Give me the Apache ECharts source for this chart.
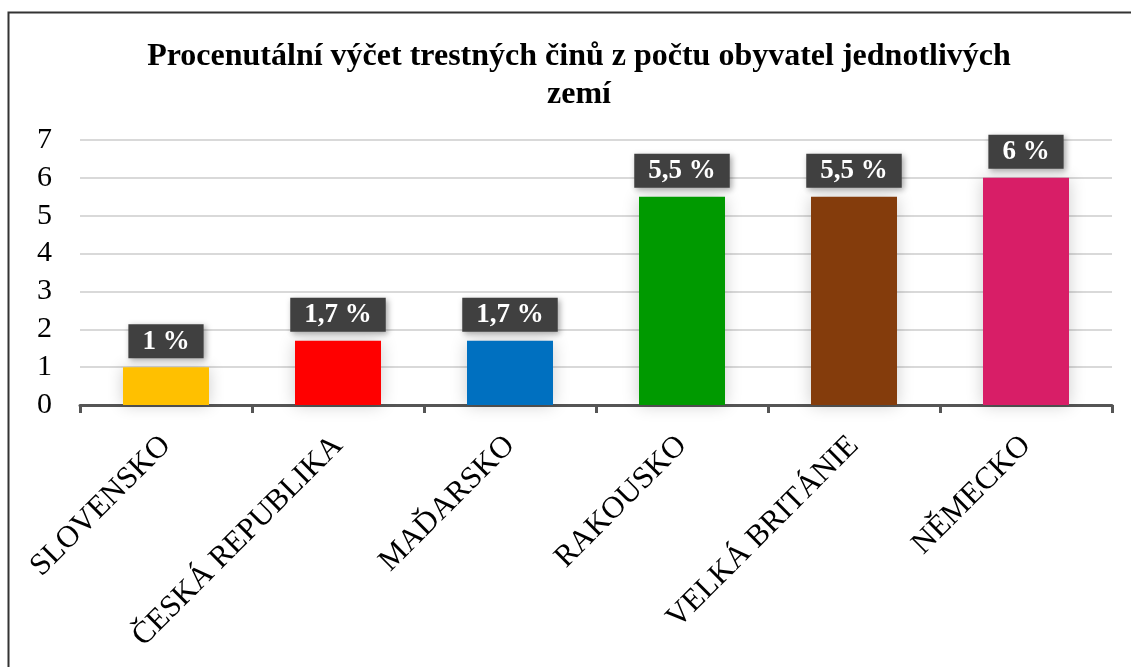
<!DOCTYPE html>
<html>
<head>
<meta charset="utf-8">
<script src="https://cdn.jsdelivr.net/npm/echarts@6/dist/echarts.min.js"></script>
<style>
  html, body { margin: 0; padding: 0; background: #fff; }
  #chart { width: 1131px; height: 667px; }
</style>
</head>
<body>
<div id="chart"></div>
<script>
const zeme = ["SLOVENSKO", "ČESKÁ REPUBLIKA", "MAĎARSKO", "RAKOUSKO", "VELKÁ BRITÁNIE", "NĚMECKO"];
const procenta = [1, 1.7, 1.7, 5.5, 5.5, 6];
const barvy = ["#FFC000", "#FF0000", "#0070C0", "#009A00", "#843C0C", "#D81E67"];

const serif = "'Liberation Serif', 'Times New Roman', serif";

const chart = echarts.init(document.getElementById("chart"));

chart.setOption({
  animation: false,
  title: {
    text: "Procenutální výčet trestných činů z počtu obyvatel jednotlivých\nzemí",
    left: 574,
    textAlign: "center",
    top: 33,
    textStyle: {
      fontFamily: serif,
      fontWeight: "bold",
      fontSize: 32,
      lineHeight: 38,
      color: "#000"
    }
  },
  graphic: [
    {
      type: "rect",
      shape: { x: 8.5, y: 12.5, width: 1200, height: 700 },
      style: { fill: "none", stroke: "#333", lineWidth: 2 },
      silent: true
    }
  ],
  grid: { left: 80, right: 19, top: 140, bottom: 262 },
  xAxis: {
    type: "category",
    data: zeme,
    axisLine: { lineStyle: { color: "#555", width: 3 } },
    axisTick: { show: true, length: 8, lineStyle: { color: "#555", width: 3 } },
    axisLabel: {
      rotate: 45,
      margin: 36,
      interval: 0,
      fontFamily: serif,
      fontSize: 31,
      color: "#000"
    }
  },
  yAxis: {
    type: "value",
    min: 0,
    max: 7,
    interval: 1,
    axisLine: { show: false },
    axisTick: { show: false },
    axisLabel: {
      margin: 28,
      fontFamily: serif,
      fontSize: 30,
      color: "#000"
    },
    splitLine: { lineStyle: { color: "#d9d9d9", width: 2 } }
  },
  series: [
    {
      type: "bar",
      barWidth: "50%",
      data: procenta.map((v, i) => ({
        value: v,
        itemStyle: {
          color: barvy[i],
          shadowBlur: 16,
          shadowColor: "rgba(0,0,0,0.2)"
        }
      })),
      label: {
        show: true,
        position: "top",
        distance: 9,
        formatter: p => String(p.value).replace(".", ",") + " %",
        fontFamily: serif,
        fontWeight: "bold",
        fontSize: 27,
        color: "#fff",
        backgroundColor: "#404040",
        padding: [4, 14, 3, 14],
        shadowBlur: 6,
        shadowOffsetX: 2,
        shadowOffsetY: 2,
        shadowColor: "rgba(0,0,0,0.35)"
      }
    }
  ]
});
</script>
</body>
</html>
